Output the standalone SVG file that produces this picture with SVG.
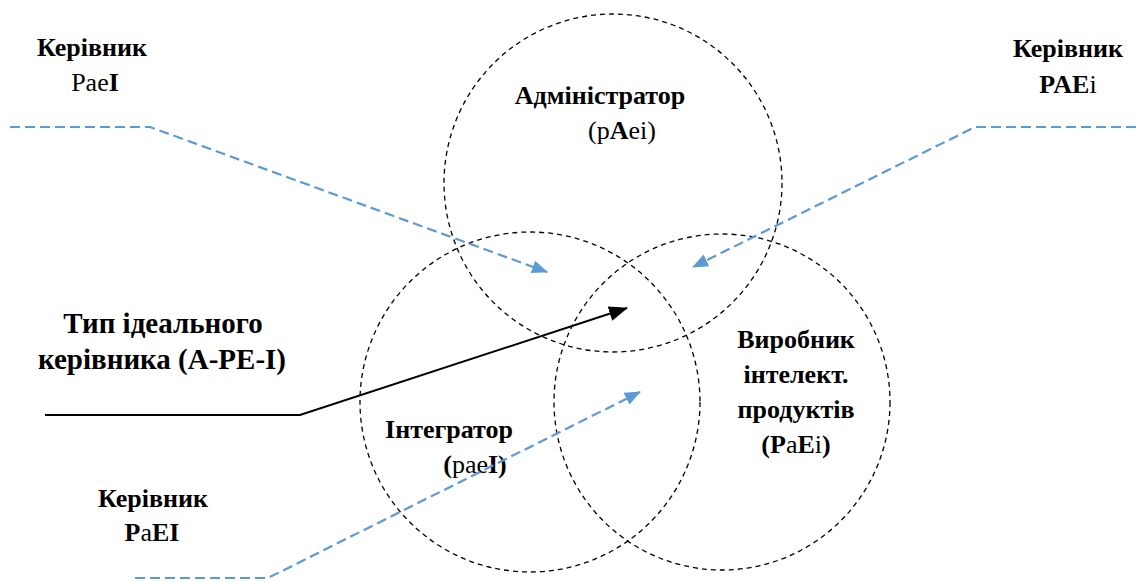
<svg xmlns="http://www.w3.org/2000/svg" width="1136" height="582" viewBox="0 0 1136 582">
<style>
.c{fill:none;stroke:#000;stroke-width:1.3;stroke-dasharray:5 4}
.b{fill:none;stroke:#5B9BD5;stroke-width:2.2;stroke-dasharray:10 5}
.k{fill:none;stroke:#000;stroke-width:2}
text{font-family:'Liberation Serif','Times New Roman',serif;font-weight:bold;fill:#000;text-anchor:middle}
.s{font-size:26px}
.l{font-size:29px}
.n{font-weight:normal}
</style>
<defs>
<marker id="ab" markerWidth="16" markerHeight="13" refX="15" refY="6.5" orient="auto" markerUnits="userSpaceOnUse" viewBox="0 0 16 13"><path d="M0,0 L16,6.5 L0,13 z" fill="#5B9BD5"/></marker>
<marker id="ak" markerWidth="19" markerHeight="15" refX="18" refY="7.5" orient="auto" markerUnits="userSpaceOnUse" viewBox="0 0 19 15"><path d="M0,0 L19,7.5 L0,15 z" fill="#000"/></marker>
</defs>
<rect width="1136" height="582" fill="#fff"/>
<g id="admin"><circle class="c" cx="613" cy="183" r="169"/>
<text class="s" x="600" y="104">Адміністратор</text>
<text class="s" x="622" y="139"><tspan class="n">(p</tspan>A<tspan class="n">ei)</tspan></text></g>
<g id="integrator"><circle class="c" cx="530" cy="402" r="170"/>
<text class="s" x="449" y="438">Інтегратор</text>
<text class="s" x="475" y="473">(<tspan class="n">pae</tspan>I)</text></g>
<g id="producer"><circle class="c" cx="722" cy="402" r="168"/>
<text class="s" x="796" y="348">Виробник</text>
<text class="s" x="796" y="383">інтелект.</text>
<text class="s" x="796" y="418">продуктів</text>
<text class="s" x="796" y="453">(P<tspan class="n">a</tspan>E<tspan class="n">i</tspan>)</text></g>
<g id="paeI"><text class="s" x="92" y="56">Керівник</text>
<text class="s" x="95" y="91"><tspan class="n">Pae</tspan>I</text></g>
<g id="PAEi"><text class="s" x="1068" y="57">Керівник</text>
<text class="s" x="1068" y="93">PAE<tspan class="n">i</tspan></text></g>
<g id="PaEI"><text class="s" x="153" y="507">Керівник</text>
<text class="s" x="152" y="541">P<tspan class="n">a</tspan>EI</text></g>
<g id="ideal"><text class="l" x="163" y="333">Тип ідеального</text>
<text class="l" x="162" y="369">керівника (A-PE-I)</text></g>
<g id="connectors">
<polyline class="b" points="10,127 150,127 547,272" marker-end="url(#ab)"/>
<polyline class="b" points="1136,127 975,127 693,267" marker-end="url(#ab)"/>
<polyline class="b" points="135,578 268,578 640,392" marker-end="url(#ab)"/>
<polyline class="k" points="45,415 300,415 627,308" marker-end="url(#ak)"/>
</g>
</svg>
